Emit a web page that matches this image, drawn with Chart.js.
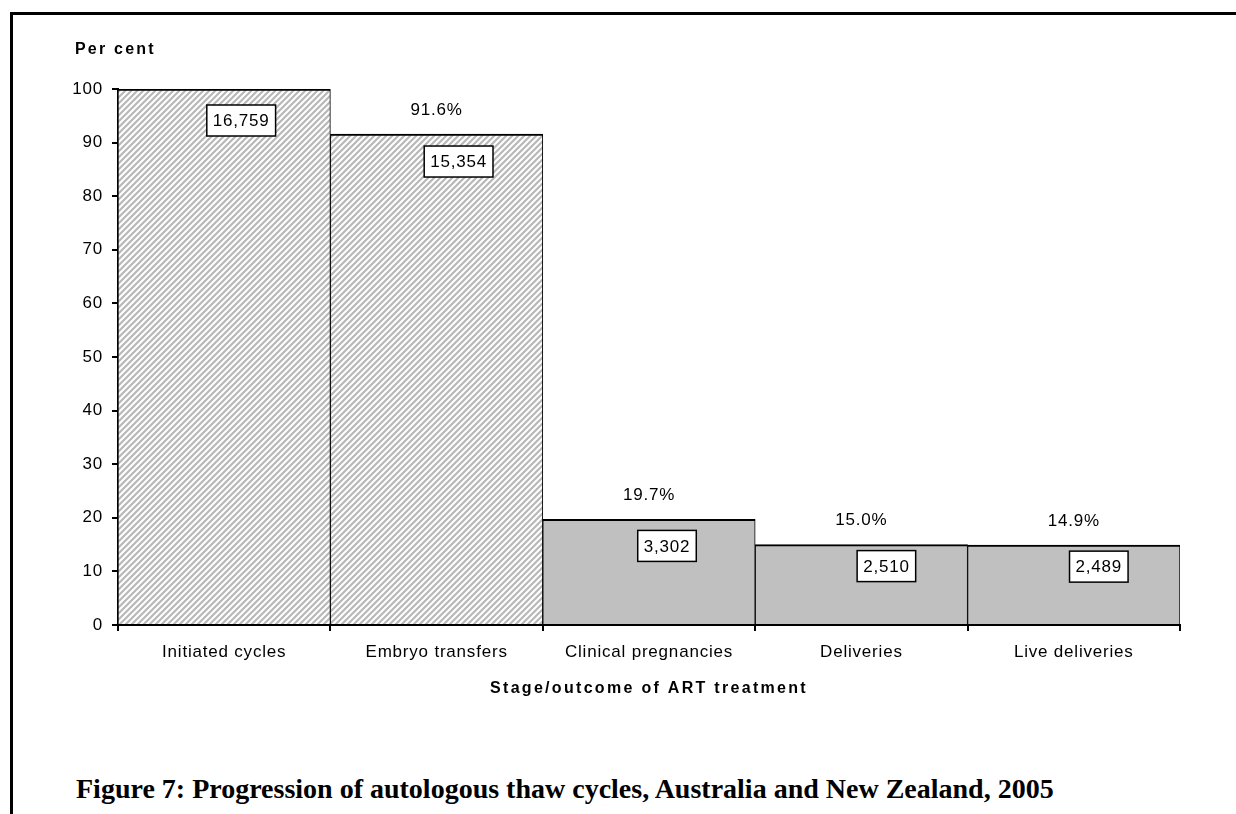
<!DOCTYPE html>
<html>
<head>
<meta charset="utf-8">
<script src="https://cdn.jsdelivr.net/npm/chart.js@4/dist/chart.umd.min.js"></script>
<style>
  body { margin: 0; background: #fff; width: 1236px; height: 814px; overflow: hidden; position: relative; }
  #frame { position: absolute; left: 10px; top: 12px; width: 1300px; height: 900px;
           border-top: 3px solid #000; border-left: 3px solid #000; }
  #wrap { position: absolute; left: 0; top: 0; width: 1236px; height: 720px; }
  #caption { position: absolute; left: 76px; top: 775px; font-family: "Liberation Serif", serif;
             font-weight: bold; font-size: 28px; line-height: 28px; color: #000; white-space: nowrap; }
</style>
</head>
<body>
<div id="frame"></div>
<div id="wrap"><canvas id="myChart"></canvas></div>
<div id="caption">Figure 7: Progression of autologous thaw cycles, Australia and New Zealand, 2005</div>
<script>
const categories = ['Initiated cycles', 'Embryo transfers', 'Clinical pregnancies', 'Deliveries', 'Live deliveries'];
const percents = [100, 91.6, 19.7, 15.0, 14.9];
const counts = [16759, 15354, 3302, 2510, 2489];
const pctLabels = ['', '91.6%', '19.7%', '15.0%', '14.9%'];
const yTicks = [0, 10, 20, 30, 40, 50, 60, 70, 80, 90, 100];

const FONT = '"Liberation Sans", Arial, sans-serif';

// diagonal hatch for the first two stages
function hatch() {
    const c = document.createElement('canvas');
    c.width = 6; c.height = 6;
    const g = c.getContext('2d');
    g.fillStyle = '#ffffff';
    g.fillRect(0, 0, 6, 6);
    g.strokeStyle = '#b8b8b8';
    g.lineWidth = 2.2;
    g.beginPath();
    g.moveTo(-1, 7); g.lineTo(7, -1);
    g.moveTo(-1, 1); g.lineTo(1, -1);
    g.moveTo(5, 7); g.lineTo(7, 5);
    g.stroke();
    return g.createPattern(c, 'repeat');
}
const hatchFill = hatch();

// box offsets (x from bar centre, y below bar top), dragged by hand in the original
const boxDx = [17, 22, 18, 25, 25];
const boxDy = [16, 12, 11, 6, 6];

const labelsPlugin = {
    id: 'labels',
    beforeDraw(chart) {
        chart.ctx.letterSpacing = '0.8px';
    },
    afterDatasetsDraw(chart) {
        const ctx = chart.ctx;
        const meta = chart.getDatasetMeta(0);
        const xs = chart.scales.x;
        ctx.save();
        ctx.font = '17px ' + FONT;
        ctx.letterSpacing = '0.8px';
        ctx.textAlign = 'center';
        ctx.textBaseline = 'middle';
        meta.data.forEach((bar, i) => {
            if (pctLabels[i]) {
                ctx.fillStyle = '#000';
                ctx.fillText(pctLabels[i], bar.x, bar.y - 24);
            }
            const txt = counts[i].toLocaleString('en-US');
            const w = ctx.measureText(txt).width + 12;
            const h = 31;
            const cx = bar.x + boxDx[i];
            const top = bar.y + boxDy[i];
            ctx.fillStyle = '#fff';
            ctx.fillRect(cx - w / 2, top, w, h);
            ctx.strokeStyle = '#000';
            ctx.lineWidth = 1.5;
            ctx.strokeRect(cx - w / 2, top, w, h);
            ctx.fillStyle = '#000';
            ctx.fillText(txt, cx, top + h / 2 + 1);
        });
        // axis captions
        ctx.font = 'bold 16px ' + FONT;
        ctx.letterSpacing = '2.2px';
        ctx.textAlign = 'left';
        ctx.fillText('Per cent', 75, 50);
        ctx.letterSpacing = '2.3px';
        ctx.textAlign = 'center';
        ctx.fillText('Stage/outcome of ART treatment', (xs.left + xs.right) / 2, 689);
        ctx.restore();
    }
};

const ctx = document.getElementById('myChart').getContext('2d');

const myChart = new Chart(ctx, {
    type: 'bar',
    data: {
        labels: categories,
        datasets: [{
            data: percents,
            backgroundColor: [hatchFill, hatchFill, '#c0c0c0', '#c0c0c0', '#c0c0c0'],
            borderColor: '#000',
            borderWidth: { top: 2, left: 1, right: 1, bottom: 0 },
            borderSkipped: false,
            categoryPercentage: 1,
            barPercentage: 1
        }]
    },
    plugins: [labelsPlugin],
    options: {
        responsive: true,
        maintainAspectRatio: false,
        animation: false,
        layout: { padding: { top: 89, right: 56, bottom: 21, left: 0 } },
        plugins: {
            legend: { display: false },
            tooltip: { enabled: false }
        },
        scales: {
            x: {
                afterFit(scale) { scale.height = 74; },
                border: { color: '#000', width: 2 },
                grid: { offset: true, drawOnChartArea: false, color: '#000', lineWidth: 2, tickLength: 6 },
                ticks: { color: '#000', padding: 11, font: { family: FONT, size: 17 } }
            },
            y: {
                min: 0,
                max: 100,
                afterFit(scale) { scale.width = 118; },
                afterBuildTicks(scale) { scale.ticks = yTicks.map(v => ({ value: v })); },
                border: { color: '#000', width: 2 },
                grid: { drawOnChartArea: false, color: '#000', lineWidth: 2, tickLength: 6 },
                ticks: { color: '#000', padding: 9, font: { family: FONT, size: 17 } }
            }
        }
    }
});
</script>
</body>
</html>
